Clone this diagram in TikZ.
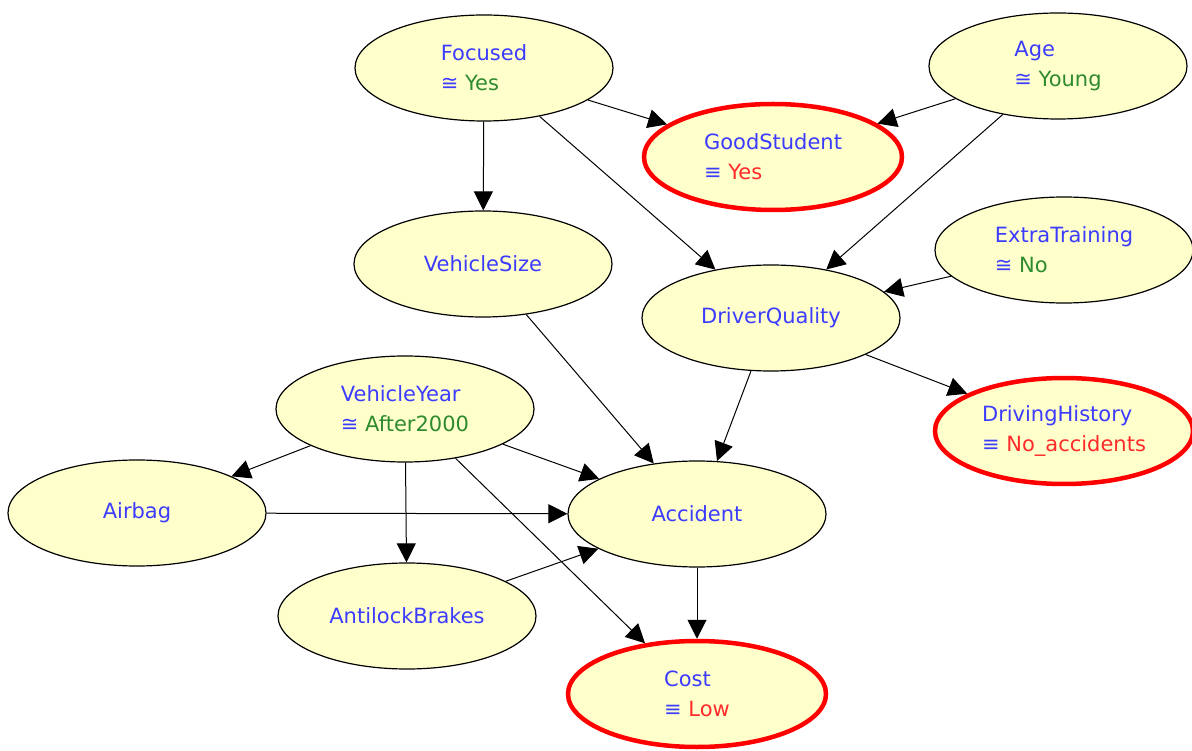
\documentclass[tikz,border=0pt]{standalone}
\usepackage{fontspec}
\setmainfont{DejaVu Sans}
\usetikzlibrary{shapes.geometric,arrows.meta}

\definecolor{nodefill}{HTML}{FFFFCC}
\definecolor{nameblue}{HTML}{3C3CFF}
\definecolor{softgreen}{HTML}{2E8B2E}
\definecolor{hardred}{HTML}{FF2A2A}

\newcommand{\softval}[1]{≅ \textcolor{softgreen}{#1}}
\newcommand{\hardval}[1]{≡ \textcolor{hardred}{#1}}

\tikzset{
    var/.style={ellipse, draw=black, line width=1.2pt, fill=nodefill,
        minimum width=258pt, minimum height=106pt, inner sep=0pt,
        align=left, text=nameblue, font=\fontsize{21}{30}\selectfont},
    evidence/.style={var, draw=red, line width=4.5pt},
    link/.style={-{Triangle[length=19pt,width=19pt]}, line width=1pt},
}

\begin{document}
\begin{tikzpicture}[x=1pt, y=-1pt]
    \useasboundingbox (0,0) rectangle (1192,751);

        %Variables
        \node[var] (focused) at (484, 68) {Focused\\\softval{Yes}};
        \node[var] (age) at (1058, 66) {Age\\\softval{Young}};
        \node[evidence] (goodstudent) at (773, 157) {GoodStudent\\\hardval{Yes}};
        \node[var] (vehiclesize) at (483, 264) {VehicleSize};
        \node[var] (extratraining) at (1064, 250) {ExtraTraining\\\softval{No}};
        \node[var] (driverquality) at (771, 318) {DriverQuality};
        \node[var] (vehicleyear) at (405, 409) {VehicleYear\\\softval{After2000}};
        \node[evidence] (drivinghistory) at (1064, 431) {DrivingHistory\\\hardval{No\_accidents}};
        \node[var] (airbag) at (137, 513) {Airbag};
        \node[var] (accident) at (697, 514) {Accident};
        \node[var] (antilock) at (407, 616) {AntilockBrakes};
        \node[evidence] (cost) at (697, 694) {Cost\\\hardval{Low}};

        %Links
        \draw[link] (focused) -- (vehiclesize);
        \draw[link] (focused) -- (goodstudent);
        \draw[link] (focused) -- (driverquality);
        \draw[link] (age) -- (goodstudent);
        \draw[link] (age) -- (driverquality);
        \draw[link] (extratraining) -- (driverquality);
        \draw[link] (driverquality) -- (drivinghistory);
        \draw[link] (driverquality) -- (accident);
        \draw[link] (vehiclesize) -- (accident);
        \draw[link] (vehicleyear) -- (airbag);
        \draw[link] (vehicleyear) -- (accident);
        \draw[link] (vehicleyear) -- (antilock);
        \draw[link] (vehicleyear) -- (cost);
        \draw[link] (airbag) -- (accident);
        \draw[link] (antilock) -- (accident);
        \draw[link] (accident) -- (cost);

    \end{tikzpicture}
\end{document}
